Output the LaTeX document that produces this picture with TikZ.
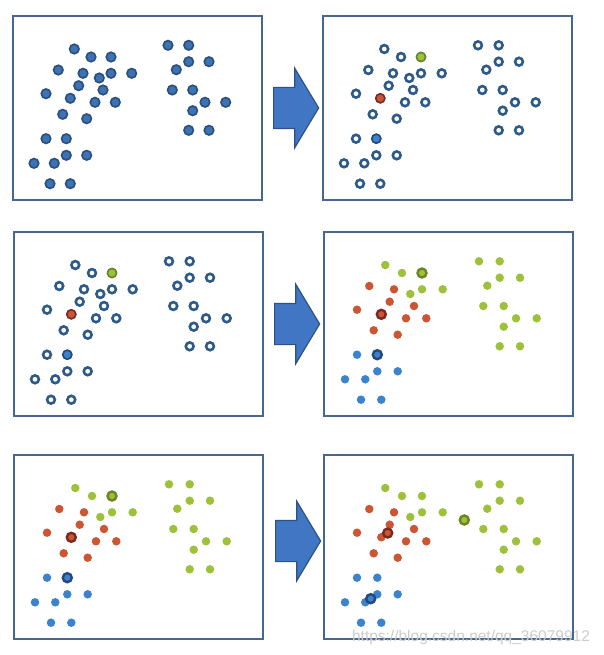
\documentclass[tikz,border=0pt]{standalone}
\usepackage{fontspec}
\setsansfont{Liberation Sans}
\usepackage{tikz}
\usetikzlibrary{positioning,shapes.arrows}

\definecolor{framecol}{HTML}{46678F}
\definecolor{fullfill}{HTML}{3D72B3}
\definecolor{fullline}{HTML}{2A4F7F}
\definecolor{ringline}{HTML}{2E5A8A}
\definecolor{grn}{HTML}{9DC23A}
\definecolor{grndark}{HTML}{6B8424}
\definecolor{rd}{HTML}{CC5533}
\definecolor{rddark}{HTML}{7A2A22}
\definecolor{bl}{HTML}{3B82CF}
\definecolor{bldark}{HTML}{24497A}
\definecolor{arrfill}{HTML}{4176C4}
\definecolor{arrline}{HTML}{2D5283}

\tikzset{node distance=11pt,
  panel/.style={draw=framecol, line width=2pt, minimum width=249pt,
    minimum height=184pt, inner sep=0pt, outer sep=0pt},
  blockarrow/.style={single arrow, fill=arrfill, draw=arrline, line width=1.2pt,
    inner xsep=0pt, inner ysep=20pt, minimum height=45pt,
    single arrow head extend=19pt, single arrow tip angle=118},
  full/.style={circle, inner sep=0pt, minimum size=9.5pt, fill=fullfill,
    draw=fullline, line width=1.6pt},
  ring/.style={circle, inner sep=0pt, minimum size=7.8pt, fill=white,
    draw=ringline, line width=2.6pt},
  clG/.style={circle, inner sep=0pt, minimum size=8.5pt, fill=grn},
  clR/.style={circle, inner sep=0pt, minimum size=8.5pt, fill=rd},
  clB/.style={circle, inner sep=0pt, minimum size=8.5pt, fill=bl},
  seedG/.style={clG, minimum size=9pt, draw=grndark, line width=1.5pt},
  seedR/.style={clR, minimum size=9pt, draw=rddark, line width=1.5pt},
  seedB/.style={clB, minimum size=9pt, draw=bldark, line width=1.5pt},
  ctrG/.style={clG, minimum size=9pt, draw=grndark, line width=2.4pt},
  ctrR/.style={clR, minimum size=9pt, draw=rddark, line width=2.4pt},
  ctrB/.style={clB, minimum size=9pt, draw=bldark, line width=2.4pt},
  wmark/.style={font=\sffamily\fontsize{15.5}{16}\selectfont, text=black!20, inner sep=0pt}
}

% points of the data set, offsets from the top left corner of a panel
\newcommand{\dotset}{61.3/33/G, 78/41/G, 98/41/G, 45.3/54/R, 70/57.3/R,
  86.3/62/G, 98/57.3/G, 118.7/57.3/G, 65.7/69.7/R, 90/74/R, 33/77.7/R,
  57.3/82.3/R, 82/86.3/R, 102.3/86.3/R, 49.7/98.3/R, 73.7/102.7/R,
  33/122.7/B, 53.3/122.7/B, 53.3/139.3/B, 73.7/139.3/B, 21/147.3/B,
  41.3/147.3/B, 37/167.7/B, 57.3/167.7/B,
  155/29.3/G, 175.7/29.3/G, 175.7/45.7/G, 196/45.7/G, 163.3/53.7/G,
  159.3/74/G, 179.7/74/G, 192/86.3/G, 212.7/86.3/G, 179.7/94.7/G,
  175.7/114.3/G, 196/114.3/G}

\begin{document}
\begin{tikzpicture}[x=1pt, y=-1pt]
  \useasboundingbox (0,0) rectangle (603,655);

  \node[panel, anchor=north west] (P1) at (13,16) {};
  \node[panel, anchor=north west] (P2) at (323,16) {};
  \node[panel, anchor=north west] (P3) at (14,232) {};
  \node[panel, anchor=north west] (P4) at (324,232) {};
  \node[panel, anchor=north west] (P5) at (14,455) {};
  \node[panel, anchor=north west] (P6) at (324,455) {};

  \node[blockarrow, right=11pt of P1] (A1) {};
  \node[blockarrow, right=11pt of P3] (A2) {};
  \node[blockarrow, right=12pt of P5, yshift=6pt] (A3) {};

  % raw data
  \begin{scope}[shift={(P1.north west)}]
    \foreach \x/\y/\c [count=\i] in \dotset
      \node[full] (d1-\i) at (\x,\y) {};
  \end{scope}

  % seeds picked
  \foreach \p in {2,3} {
    \begin{scope}[shift={(P\p.north west)}]
      \foreach \x/\y/\c [count=\i] in \dotset
        \node[ring] (d\p-\i) at (\x,\y) {};
      \node[seedG] (s\p-G) at (98,41) {};
      \node[seedR] (s\p-R) at (57.3,82.3) {};
      \node[seedB] (s\p-B) at (53.3,122.7) {};
    \end{scope}
  }

  % points given to nearest seed
  \foreach \p in {4,5} {
    \begin{scope}[shift={(P\p.north west)}]
      \foreach \x/\y/\c [count=\i] in \dotset
        \node[cl\c] (d\p-\i) at (\x,\y) {};
      \node[ctrG] (c\p-G) at (98,41) {};
      \node[ctrR] (c\p-R) at (57.3,82.3) {};
      \node[ctrB] (c\p-B) at (53.3,122.7) {};
    \end{scope}
  }

  % centres moved
  \begin{scope}[shift={(P6.north west)}]
    \foreach \x/\y/\c [count=\i] in \dotset
      \node[cl\c] (d6-\i) at (\x,\y) {};
    \node[ctrG] (c6-G) at (140.3,65) {};
    \node[ctrR] (c6-R) at (63.7,78) {};
    \node[ctrB] (c6-B) at (46.7,143.7) {};
  \end{scope}

  \node[wmark] (wm) at (471,637) {https://blog.csdn.net/qq\_36079912};
\end{tikzpicture}
\end{document}
